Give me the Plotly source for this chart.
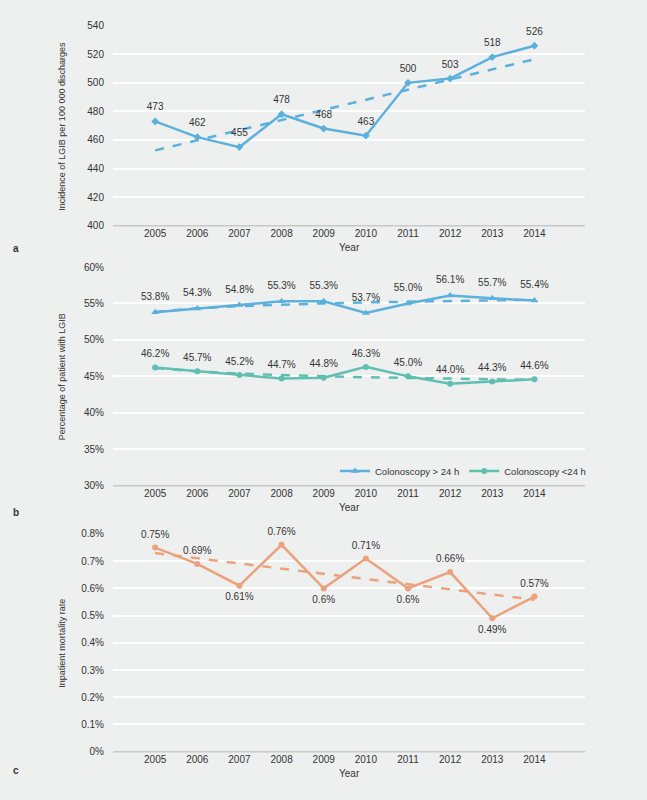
# --- Imports ---
import numpy as np
import plotly.graph_objects as go

# --- Data ---
years = [2005, 2006, 2007, 2008, 2009, 2010, 2011, 2012, 2013, 2014]

incidence = [473, 462, 455, 478, 468, 463, 500, 503, 518, 526]

colo_late = [53.8, 54.3, 54.8, 55.3, 55.3, 53.7, 55.0, 56.1, 55.7, 55.4]
colo_early = [46.2, 45.7, 45.2, 44.7, 44.8, 46.3, 45.0, 44.0, 44.3, 44.6]

mortality = [0.75, 0.69, 0.61, 0.76, 0.60, 0.71, 0.60, 0.66, 0.49, 0.57]
mort_pos = ["top center", "top center", "bottom center", "top center", "bottom center",
            "top center", "bottom center", "top center", "bottom center", "top center"]

# --- Styling ---
BLUE = "#5cb0dc"
TEAL = "#5fbfb1"
ORANGE = "#eba27c"
BG = "#eef0f0"
TXT = "#333333"
FONT = "Liberation Sans"


def linear_trend(y):
    x = np.arange(1, len(y) + 1)
    k, b = np.polyfit(x, y, 1)
    return k * x + b


def log_trend(y):
    x = np.log(np.arange(1, len(y) + 1))
    k, b = np.polyfit(x, y, 1)
    return k * x + b


def labels(y, text, pos, xa, ya, gap=14):
    # invisible markers push the value labels a bit away from the line
    return go.Scatter(x=years, y=y, mode="markers+text", text=text, textposition=pos,
                      textfont=dict(size=10, color=TXT),
                      marker=dict(size=gap, opacity=0), showlegend=False,
                      xaxis=xa, yaxis=ya, cliponaxis=False, hoverinfo="skip")


fig = go.Figure()

# --- panel a ---
fig.add_trace(go.Scatter(x=years, y=linear_trend(incidence), mode="lines",
                         line=dict(color=BLUE, width=2.5, dash="dash"),
                         showlegend=False, xaxis="x", yaxis="y", hoverinfo="skip"))
fig.add_trace(go.Scatter(x=years, y=incidence, mode="lines+markers",
                         line=dict(color=BLUE, width=2.5),
                         marker=dict(symbol="diamond", size=6, color=BLUE),
                         showlegend=False, xaxis="x", yaxis="y"))
fig.add_trace(labels(incidence, [str(v) for v in incidence], "top center", "x", "y", 12))

# --- panel b ---
fig.add_trace(go.Scatter(x=years, y=log_trend(colo_late), mode="lines",
                         line=dict(color=BLUE, width=2.5, dash="dash"),
                         showlegend=False, xaxis="x2", yaxis="y2", hoverinfo="skip"))
fig.add_trace(go.Scatter(x=years, y=log_trend(colo_early), mode="lines",
                         line=dict(color=TEAL, width=2.5, dash="dash"),
                         showlegend=False, xaxis="x2", yaxis="y2", hoverinfo="skip"))
fig.add_trace(go.Scatter(x=years, y=colo_late, mode="lines+markers",
                         name="Colonoscopy > 24 h",
                         line=dict(color=BLUE, width=2.5),
                         marker=dict(symbol="triangle-up", size=7, color=BLUE),
                         xaxis="x2", yaxis="y2"))
fig.add_trace(go.Scatter(x=years, y=colo_early, mode="lines+markers",
                         name="Colonoscopy <24 h",
                         line=dict(color=TEAL, width=2.5),
                         marker=dict(symbol="circle", size=6, color=TEAL),
                         xaxis="x2", yaxis="y2"))
fig.add_trace(labels(colo_late, [f"{v:.1f}%" for v in colo_late], "top center", "x2", "y2", 14))
fig.add_trace(labels(colo_early, [f"{v:.1f}%" for v in colo_early], "top center", "x2", "y2", 11))

# --- panel c ---
fig.add_trace(go.Scatter(x=years, y=linear_trend(mortality), mode="lines",
                         line=dict(color=ORANGE, width=2.5, dash="dash"),
                         showlegend=False, xaxis="x3", yaxis="y3", hoverinfo="skip"))
fig.add_trace(go.Scatter(x=years, y=mortality, mode="lines+markers",
                         line=dict(color=ORANGE, width=2.5),
                         marker=dict(symbol="circle", size=6, color=ORANGE),
                         showlegend=False, xaxis="x3", yaxis="y3"))
fig.add_trace(labels(mortality, [f"{v:g}%" for v in mortality], mort_pos, "x3", "y3", 10))

# --- axes ---
xdom = [113 / 647, 585 / 647]
xcommon = dict(domain=xdom, range=[2004, 2015.2], tickvals=years, showgrid=False,
               zeroline=False, showline=False, tickfont=dict(size=10, color=TXT))
ycommon = dict(gridcolor="white", gridwidth=1.5, zeroline=False, showline=False,
               tickfont=dict(size=10, color=TXT), ticklabelstandoff=8)

fig.update_layout(
    width=647, height=800,
    paper_bgcolor=BG, plot_bgcolor=BG,
    font=dict(family=FONT, color=TXT, size=10),
    margin=dict(l=0, r=0, t=0, b=0),
    xaxis=dict(**xcommon, anchor="y"),
    yaxis=dict(**ycommon, domain=[1 - 223 / 800, 1 - 20 / 800], range=[400, 540], dtick=20),
    xaxis2=dict(**xcommon, anchor="y2"),
    yaxis2=dict(**ycommon, domain=[1 - 487 / 800, 1 - 265 / 800], range=[30, 60], dtick=5,
                ticksuffix="%"),
    xaxis3=dict(**xcommon, anchor="y3"),
    yaxis3=dict(**ycommon, domain=[1 - 757 / 800, 1 - 536 / 800], range=[0, 0.8], dtick=0.1,
                ticksuffix="%"),
    legend=dict(orientation="h", x=335 / 647, y=1 - 472 / 800, xanchor="left", yanchor="middle",
                bgcolor="rgba(0,0,0,0)", font=dict(size=9.5, color=TXT), itemwidth=30,
                tracegroupgap=0),
)

# bottom axis lines (gray)
for yref in ["y", "y2", "y3"]:
    fig.add_shape(type="line", xref="x domain" if yref == "y" else f"x{yref[1:]} domain",
                  yref=f"{yref} domain", x0=0, x1=1, y0=0, y1=0,
                  line=dict(color="#c8c8c8", width=1.5))

# titles
ytitles = {"y": "Incidence of LGIB per 100 000 discharges",
           "y2": "Percentage of patient with LGIB",
           "y3": "Inpatient mortality rate"}
for yref, t in ytitles.items():
    fig.add_annotation(text=t, xref="paper", x=62 / 647, xanchor="center",
                       yref=f"{yref} domain", y=0.5, yanchor="middle",
                       textangle=-90, showarrow=False, font=dict(size=9, color=TXT))
    xr = "x domain" if yref == "y" else f"x{yref[1:]} domain"
    fig.add_annotation(text="Year", xref=xr, x=0.5, xanchor="center", yref=f"{yref} domain", y=0,
                       yshift=-29, showarrow=False, font=dict(size=10, color=TXT))

for letter, ypix in [("a", 239), ("b", 514), ("c", 784)]:
    fig.add_annotation(text=f"<b>{letter}</b>", xref="paper", x=16 / 647, xanchor="center",
                       yref="paper", y=1 - ypix / 800, showarrow=False,
                       font=dict(size=10, color=TXT))

fig.write_html("out.html", config={"displayModeBar": False},
               post_script="document.body.style.margin='0';")
